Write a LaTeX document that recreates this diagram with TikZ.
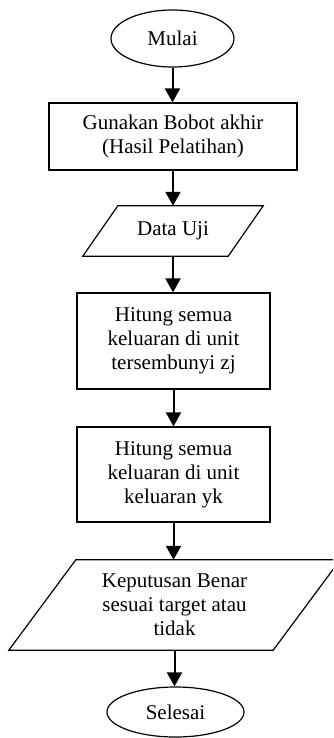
\documentclass[tikz,border=0pt]{standalone}
\usepackage{fontspec}
\setmainfont{Liberation Serif}
\usetikzlibrary{arrows.meta,shapes.geometric}
\begin{document}
\begin{tikzpicture}[x=1pt,y=-1pt,
  every node/.style={font=\fontsize{21}{24}\selectfont, align=center, inner sep=0pt},
  term/.style={ellipse, draw, line width=1.2pt},
  procbox/.style={rectangle, draw, line width=1.2pt},
  iobox/.style={rectangle},
  ioline/.style={draw, line width=1.2pt, line join=miter},
  arr/.style={line width=2pt, -{Triangle[width=15pt,length=14pt]}}]
\clip (0,0) rectangle (333,738);
\node[term, minimum width=123pt, minimum height=57pt] (mulai) at (172.5,38.5) {Mulai};
\node[procbox, minimum width=248pt, minimum height=67pt] (bobot) at (173,136.5) {Gunakan Bobot akhir\\(Hasil Pelatihan)};
\node[iobox, minimum width=145pt, minimum height=50pt] (uji) at (173,231) {Data Uji};
\draw[ioline] ([xshift=17.5pt]uji.north west) -- ([xshift=17.5pt]uji.north east)
  -- ([xshift=-17.5pt]uji.south east) -- ([xshift=-17.5pt]uji.south west) -- cycle;
\node[procbox, minimum width=193pt, minimum height=96pt] (zj) at (173.5,341) {Hitung semua\\keluaran di unit\\tersembunyi zj};
\node[procbox, minimum width=193pt, minimum height=95pt] (yk) at (173.5,474.5) {Hitung semua\\keluaran di unit\\keluaran yk};
\node[iobox, minimum width=264pt, minimum height=90pt] (kep) at (174.5,605) {Keputusan Benar\\sesuai target atau\\tidak};
\draw[ioline] ([xshift=33.5pt]kep.north west) -- ([xshift=33.5pt]kep.north east)
  -- ([xshift=-33.5pt]kep.south east) -- ([xshift=-33.5pt]kep.south west) -- cycle;
\node[term, minimum width=137pt, minimum height=50pt] (selesai) at (175.5,712) {Selesai};
\draw[arr] (mulai.south) -- (mulai.south |- bobot.north);
\draw[arr] (bobot.south) -- (bobot.south |- uji.north);
\draw[arr] (uji.south) -- (uji.south |- zj.north);
\draw[arr] (zj.south) -- (zj.south |- yk.north);
\draw[arr] (yk.south) -- (yk.south |- kep.north);
\draw[arr] (kep.south) -- (kep.south |- selesai.north);
\end{tikzpicture}
\end{document}
